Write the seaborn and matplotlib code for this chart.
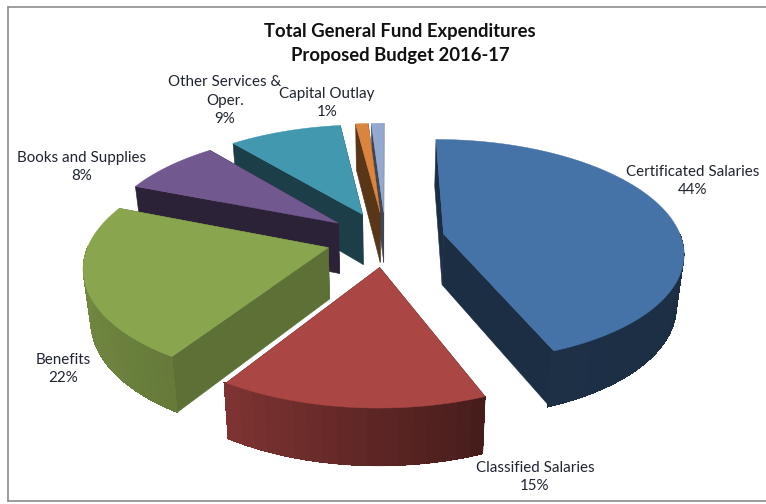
import numpy as np
import matplotlib
matplotlib.use("Agg")
import matplotlib.pyplot as plt
from matplotlib.patches import Polygon
import seaborn as sns

# Budget shares, clockwise from twelve o'clock
categories = ["Certificated Salaries", "Classified Salaries", "Benefits",
              "Books and Supplies", "Other Services &\nOper.", "Capital Outlay", "Other"]
shares = [44, 15, 22, 8, 9, 1, 1]
title_lines = ["Total General Fund Expenditures", "Proposed Budget 2016-17"]

sns.set_theme(style="white")
plt.rcParams["font.family"] = ["Lato", "DejaVu Sans"]
palette = sns.color_palette(["#4572a7", "#aa4643", "#89a54e", "#71588f",
                             "#4198af", "#db843d", "#93a9cf"])

# Brightness of the flat cut faces of each wedge
cut_shade = [0.40, 0.42, 0.68, 0.39, 0.41, 0.41, 0.42]

# Camera model for the tilted pie
CX, CY = 385.5, 239.0
SCALE_X, SCALE_Y = 238.0, 110.0
PERSPECTIVE = 0.15
EXPLODE = 0.25
THICKNESS = 51.0
BASE_SHRINK = 0.975


def project(x, y, base=False):
    """Map pie-plane coordinates to canvas pixels; base=True gives the underside."""
    x, y = np.asarray(x, float), np.asarray(y, float)
    w = 1 + PERSPECTIVE * y
    sx = CX + SCALE_X * x / w
    sy = CY - SCALE_Y * y / w
    if base:
        sx = CX + (sx - CX) * BASE_SHRINK
        sy = sy + THICKNESS * w ** -0.6
    return sx, sy


def rim_shade(theta):
    """Lighting of the curved wall as it turns from right to left."""
    return np.interp(theta, [90, 160, 212, 240, 290], [0.40, 0.42, 0.74, 0.80, 0.85])


def shaded(color, factor):
    return tuple(np.clip(np.array(color) * factor, 0, 1))


def band(x, y):
    """Closed polygon for the wall between a rim arc and the same arc underneath."""
    up = project(x, y)
    dn = project(x[::-1], y[::-1], base=True)
    return np.column_stack([np.r_[up[0], dn[0]], np.r_[up[1], dn[1]]])


fig, ax = plt.subplots(figsize=(7.66, 5.04), dpi=100)
fig.subplots_adjust(0, 0, 1, 1)
ax.set_xlim(0, 766)
ax.set_ylim(504, 0)
ax.axis("off")

# Thin grey chart border, open on the right
ax.plot([7.5, 7.5], [6.5, 500.5], color="#8c8c8c", lw=1.2)
ax.plot([7.5, 766], [6.5, 6.5], color="#8c8c8c", lw=1.2)
ax.plot([7.5, 766], [500.5, 500.5], color="#8c8c8c", lw=1.2)

edges = np.cumsum([0] + shares) / sum(shares) * 360.0
wedges = []
for i in range(len(shares)):
    t0, t1 = edges[i], edges[i + 1]
    mid = np.radians((t0 + t1) / 2)
    wedges.append((i, t0, t1, EXPLODE * np.sin(mid), EXPLODE * np.cos(mid)))

# Far wedges first so nearer ones overlap them
for i, t0, t1, ox, oy in sorted(wedges, key=lambda s: -s[4]):
    color = palette[i]
    th = np.radians(np.linspace(t0, t1, 120))
    rx, ry = ox + np.sin(th), oy + np.cos(th)
    cut = shaded(color, cut_shade[i])

    # Flat cut faces
    for ang in (t0, t1):
        a = np.radians(ang)
        ex, ey = np.array([ox, ox + np.sin(a)]), np.array([oy, oy + np.cos(a)])
        ax.add_patch(Polygon(band(ex, ey), closed=True, fc=cut, ec=cut, lw=0.4))

    # Curved outer wall, with a solid underlay so the lit steps leave no seams
    lo, hi = max(t0, 90.0), min(t1, 270.0)
    if hi > lo:
        whole = np.radians(np.linspace(lo, hi, 80))
        base_c = shaded(color, rim_shade((lo + hi) / 2))
        ax.add_patch(Polygon(band(ox + np.sin(whole), oy + np.cos(whole)), closed=True,
                             fc=base_c, ec=base_c, lw=0.4))
        steps = np.linspace(lo, hi, int((hi - lo) / 3) + 2)
        for s0, s1 in zip(steps[:-1], steps[1:]):
            seg = np.radians(np.linspace(s0, s1 + 0.6, 4))
            c = shaded(color, rim_shade((s0 + s1) / 2))
            ax.add_patch(Polygon(band(ox + np.sin(seg), oy + np.cos(seg)), closed=True,
                                 fc=c, ec="none", antialiased=False))

    # Top face
    fx, fy = project(np.r_[ox, rx], np.r_[oy, ry])
    ax.add_patch(Polygon(np.column_stack([fx, fy]), closed=True, fc=color, ec=color, lw=0.3))

# Slice labels
label_kw = dict(ha="center", va="center", fontsize=10.9, color="#1f2430", linespacing=1.45)
ax.text(693, 181, f"{categories[0]}\n{shares[0]}%", **label_kw)
ax.text(535, 477, f"{categories[1]}\n{shares[1]}%", **label_kw)
ax.text(63, 369, f"{categories[2]}\n{shares[2]}%", **label_kw)
ax.text(82, 167, f"{categories[3]}\n{shares[3]}%", **label_kw)
ax.text(225, 100.5, f"{categories[4]}\n{shares[4]}%", **label_kw)
ax.text(327, 103, f"{categories[5]}\n{shares[5]}%", **label_kw)

# Title
ax.text(400, 31, title_lines[0], ha="center", va="center", fontsize=13.3,
        fontweight="bold", color="#111111")
ax.text(400, 56, title_lines[1], ha="center", va="center", fontsize=13.3,
        fontweight="bold", color="#111111")

fig.savefig("out.png", dpi=100, facecolor="white")
